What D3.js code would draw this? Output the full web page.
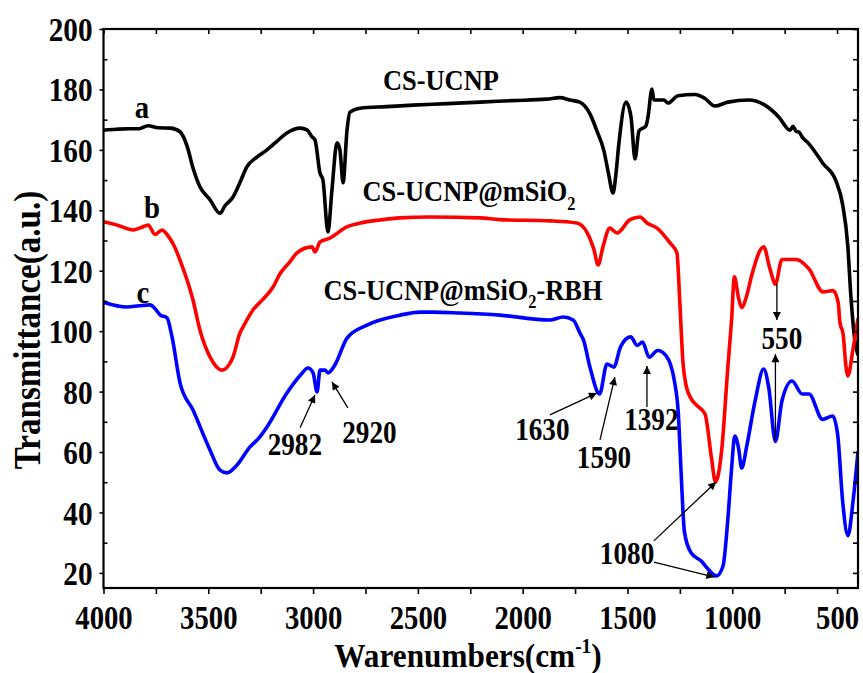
<!DOCTYPE html>
<html><head><meta charset="utf-8">
<script src="https://cdn.jsdelivr.net/npm/d3@7"></script>
<style>html,body{margin:0;padding:0;background:#fff;}svg{display:block;}</style>
</head><body>
<svg id="chart" width="863" height="673"></svg>
<script>
// ---------- data ----------
const xMajorTicks = [4000,3500,3000,2500,2000,1500,1000,500];
const xMinorTicks = [3750,3250,2750,2250,1750,1250,750];
const yMajorTicks = [20,40,60,80,100,120,140,160,180,200];
const yMinorTicks = [30,50,70,90,110,130,150,170,190];

const waveA = [4000,3940,3880,3830,3787,3740,3680,3635,3600,3573,3540,3492,3444,3420,3382,3350,3316,3270,3220,3170,3125,3062,3029,3005,2991,2967,2953,2929,2910,2886,2872,2857,2838,2824,2776,2650,2524,2360,2204,2050,1885,1822,1775,1727,1679,1646,1612,1590,1569,1555,1541,1507,1483,1464,1445,1412,1402,1383,1374,1326,1307,1259,1178,1130,1083,1021,921,844,778,724,710,696,680,667,634,567,505,473,449,434,415,400];
const valA  = [166.5,166.8,167,167,168,167.3,167.2,166,161,154,147.8,143.5,139,141.5,144.4,149,154.4,157.5,160,163,165.6,167.2,166.6,164.3,163.3,152.3,150,132.8,146.7,162.3,160,149.1,166.6,172.5,173.8,174.3,174.8,175.3,175.8,176.3,176.8,177.3,176.5,175.8,171.9,166.3,159.6,152,145.7,152,162,175.8,170.9,157,166.3,167.9,170.9,180.1,176.5,176.5,175.5,177.9,178.3,177,174.5,175.8,176.5,174.8,170.9,166.5,167.8,166.2,165.8,164.3,162,155.5,149.7,141.8,128.5,111.6,97,92];

const waveB = [4000,3930,3858,3820,3787,3754,3721,3697,3665,3635,3573,3540,3492,3435,3400,3382,3349,3334,3287,3240,3191,3158,3110,3077,3005,2991,2967,2920,2839,2760,2681,2586,2443,2204,2109,1870,1742,1694,1660,1640,1617,1584,1550,1488,1440,1407,1359,1297,1264,1250,1235,1220,1195,1170,1130,1099,1080,1051,1021,1003,990,970,955,930,907,850,820,794,763,696,634,567,519,495,486,471,457,448,425,400];
const valB  = [136.2,135,133.5,134.3,135.1,132,133.5,132,128.5,123.5,110.3,100.4,91.5,87.1,89,91.5,99.4,101.4,107,110.5,114.6,119,123,125.9,127.9,126.2,129.5,130.8,134.5,136,136.8,137.5,137.8,137.5,136.9,136.5,135.8,132.8,127,121.9,127.9,134.1,132.5,136.9,137.8,135.8,134.1,129.2,125.9,109.3,89.5,82,77.5,75.5,72.6,58,50.1,60.2,88.1,104,118,111,107.8,112,118.5,127.9,120.6,115.6,123.7,123.7,120.6,113,113.4,109.6,102.8,99,88.1,85.2,93.6,104.2];

const waveC = [4000,3888,3830,3778,3755,3730,3697,3673,3635,3573,3492,3444,3411,3363,3301,3260,3220,3125,3060,3024,3000,2981,2967,2943,2929,2896,2838,2743,2586,2490,2428,2300,2109,1870,1806,1759,1727,1710,1679,1633,1598,1565,1533,1485,1453,1428,1397,1356,1316,1276,1257,1245,1228,1197,1148,1116,1075,1044,1021,1003,988,970,955,930,891,850,826,794,763,715,666,634,569,521,497,473,448,424,400];
const valC  = [109.6,108,108.4,108.7,107.5,105.4,104.4,98.1,82.9,73.9,60.7,54,53.1,55.7,61.7,64.5,68.3,79.5,85.5,87.8,86.2,79.9,87.1,87.1,86.2,88.8,97.7,102,105.3,106.3,106.3,106,105.3,103.7,104.7,103.7,99.4,97.1,88.1,79.2,89.1,88.1,94.8,98.1,95.3,96.4,91.4,93.6,91.9,83.5,72.4,54.7,33.5,26.7,23.9,21.3,19,22.3,37.8,54.7,65.3,61.3,54.7,62.3,76.9,87.5,81.4,63.5,76.9,83.5,79.2,79.2,70.8,71.9,65.7,43.5,32.3,43.5,60.2];

const seriesNames  = ["a","b","c"];
const seriesColors = ["#000000","#ff0000","#0000ff"];

// curve letters [text, wavenumber, value]
const letterLabels = [["a",3817,170.5],["b",3769,137.5],["c",3812,109.3]];
// sample names (centre wavenumber, baseline value)
const sampleNames = [
  {parts:[["CS-UCNP",""]], w:2390, v:179.8},
  {parts:[["CS-UCNP@mSiO",""],["2","sub"]], w:2256, v:143},
  {parts:[["CS-UCNP@mSiO",""],["2","sub"],["-RBH",""]], w:2285, v:110.3}
];
// peak labels [text, wavenumber(centre), value(baseline)]
const peakLabels = [["2982",3087,59],["2920",2731,63],["1630",1906,64],["1590",1612,54.7],["1392",1386,67.3],["1080",1502,23],["550",763,94.1]];
// arrows [w tail, v tail, w tip, v tip]
const arrows = [
  [3062,68,2991,78.9],
  [2834,74.6,2910,83.2],
  [1870,72.3,1646,79.5],
  [1631,64,1560,84.8],
  [1407,74.9,1407,88.5],
  [1374,30.6,1077,50.1],
  [1374,23.6,1085,18.6],
  [794,64,794,92.4],
  [787,115.6,787,103.7]
];

// ---------- drawing ----------
const svg = d3.select("#chart");
const L=103.5, R=858, T=29, B=588;
const x = d3.scaleLinear().domain([4000,400]).range([L,R]);
const y = d3.scaleLinear().domain([15,200]).range([B,T]);
const FONT = "'Liberation Serif','Times New Roman',serif";

svg.append("defs").append("marker")
  .attr("id","ah").attr("viewBox","0 0 10 10").attr("refX",10).attr("refY",5)
  .attr("markerWidth",11).attr("markerHeight",8).attr("markerUnits","userSpaceOnUse")
  .attr("orient","auto")
  .append("path").attr("d","M0,0 L10,5 L0,10 Z").attr("fill","#000");

// curves
const data = [[waveA,valA],[waveB,valB],[waveC,valC]];
const line = d3.line().x(d=>x(d[0])).y(d=>y(d[1])).curve(d3.curveMonotoneX);
svg.append("clipPath").attr("id","clip").append("rect")
  .attr("x",L).attr("y",T).attr("width",R-L).attr("height",B-T);
data.forEach((s,i)=>{
  const pts = s[0].map((w,j)=>[w,s[1][j]]);
  svg.append("path").datum(pts).attr("d",line)
    .attr("fill","none").attr("stroke",seriesColors[i]).attr("stroke-width",3.6)
    .attr("stroke-linejoin","round").attr("clip-path","url(#clip)");
});

// axes
function styleAxis(g){ g.select(".domain").remove(); g.selectAll("line").attr("stroke","#000").attr("stroke-width",1.6); }
const gx = svg.append("g").attr("transform",`translate(0,${B})`)
  .call(d3.axisBottom(x).tickValues(xMajorTicks).tickSize(6).tickSizeOuter(0).tickFormat(d3.format("d")));
styleAxis(gx);
gx.selectAll("text").attr("y",41).attr("dy",0)
  .attr("transform","scale(0.87,1)")
  .attr("font-family",FONT).attr("font-weight","bold").attr("font-size",33).attr("fill","#000");
const gxm = svg.append("g").attr("transform",`translate(0,${B})`)
  .call(d3.axisBottom(x).tickValues(xMinorTicks).tickSize(6).tickSizeOuter(0).tickFormat(""));
styleAxis(gxm);
const gtop = svg.append("g").attr("transform",`translate(0,${T})`)
  .call(d3.axisTop(x).tickValues(xMajorTicks.concat(xMinorTicks)).tickSize(-5).tickSizeOuter(0).tickFormat(""));
styleAxis(gtop);

const gy = svg.append("g").attr("transform",`translate(${L},0)`)
  .call(d3.axisLeft(y).tickValues(yMajorTicks).tickSize(4).tickSizeOuter(0).tickFormat(d3.format("d")));
styleAxis(gy);
gy.selectAll("text").attr("x",-11/0.86).attr("dy","0.34em")
  .attr("transform","scale(0.86,1)")
  .attr("font-family",FONT).attr("font-weight","bold").attr("font-size",34).attr("fill","#000");
const gym = svg.append("g").attr("transform",`translate(${L},0)`)
  .call(d3.axisLeft(y).tickValues(yMinorTicks).tickSize(-4).tickSizeOuter(0).tickFormat(""));
styleAxis(gym);
const gr = svg.append("g").attr("transform",`translate(${R},0)`)
  .call(d3.axisRight(y).tickValues(yMajorTicks.concat(yMinorTicks)).tickSize(-5).tickSizeOuter(0).tickFormat(""));
styleAxis(gr);

svg.append("rect").attr("x",L).attr("y",T).attr("width",R-L).attr("height",B-T)
  .attr("fill","none").attr("stroke","#000").attr("stroke-width",2.2);

// text helper with sub/superscripts
function addParts(px,py,parts,size,sx,anchor,rot){
  const fixed=[]; let shift=0;
  parts.forEach(p=>{
    if(p[1]===""&&shift!==0){ fixed.push([p[0],"ret",-shift]); shift=0; }
    else if(p[1]==="sub"){ fixed.push([p[0],"sub"]); shift=size*0.28; }
    else if(p[1]==="sup"){ fixed.push([p[0],"sup"]); shift=-size*0.4; }
    else fixed.push(p);
  });
  const t = svg.append("text")
    .attr("transform",`translate(${px},${py}) rotate(${rot||0}) scale(${sx},1)`)
    .attr("text-anchor",anchor||"middle")
    .attr("font-family",FONT).attr("font-weight","bold").attr("font-size",size).attr("fill","#000");
  fixed.forEach(p=>{
    const ts = t.append("tspan").text(p[0]);
    if(p[1]==="sub") ts.attr("font-size",size*0.62).attr("dy",size*0.28);
    else if(p[1]==="sup") ts.attr("font-size",size*0.62).attr("dy",-size*0.4);
    else if(p[1]==="ret") ts.attr("dy",p[2]);
  });
  return t;
}

// axis titles
addParts(468,667,[["Warenumbers(cm",""],["-1","sup"],[")",""]],34,0.92,"middle");
addParts(40,330,[["Transmittance(a.u.)",""]],38,0.87,"middle",-90);

// curve letters
letterLabels.forEach(l=>addParts(x(l[1]),y(l[2]),[[l[0],""]],32,0.9,"middle"));
// sample names
sampleNames.forEach(s=>addParts(x(s.w),y(s.v),s.parts,30,0.88,"middle"));
// peak labels
peakLabels.forEach(p=>addParts(x(p[1]),y(p[2]),[[p[0],""]],32,0.85,"middle"));
// arrows
arrows.forEach(a=>{
  svg.append("line").attr("x1",x(a[0])).attr("y1",y(a[1])).attr("x2",x(a[2])).attr("y2",y(a[3]))
    .attr("stroke","#000").attr("stroke-width",1.3).attr("marker-end","url(#ah)");
});
</script>
</body></html>
